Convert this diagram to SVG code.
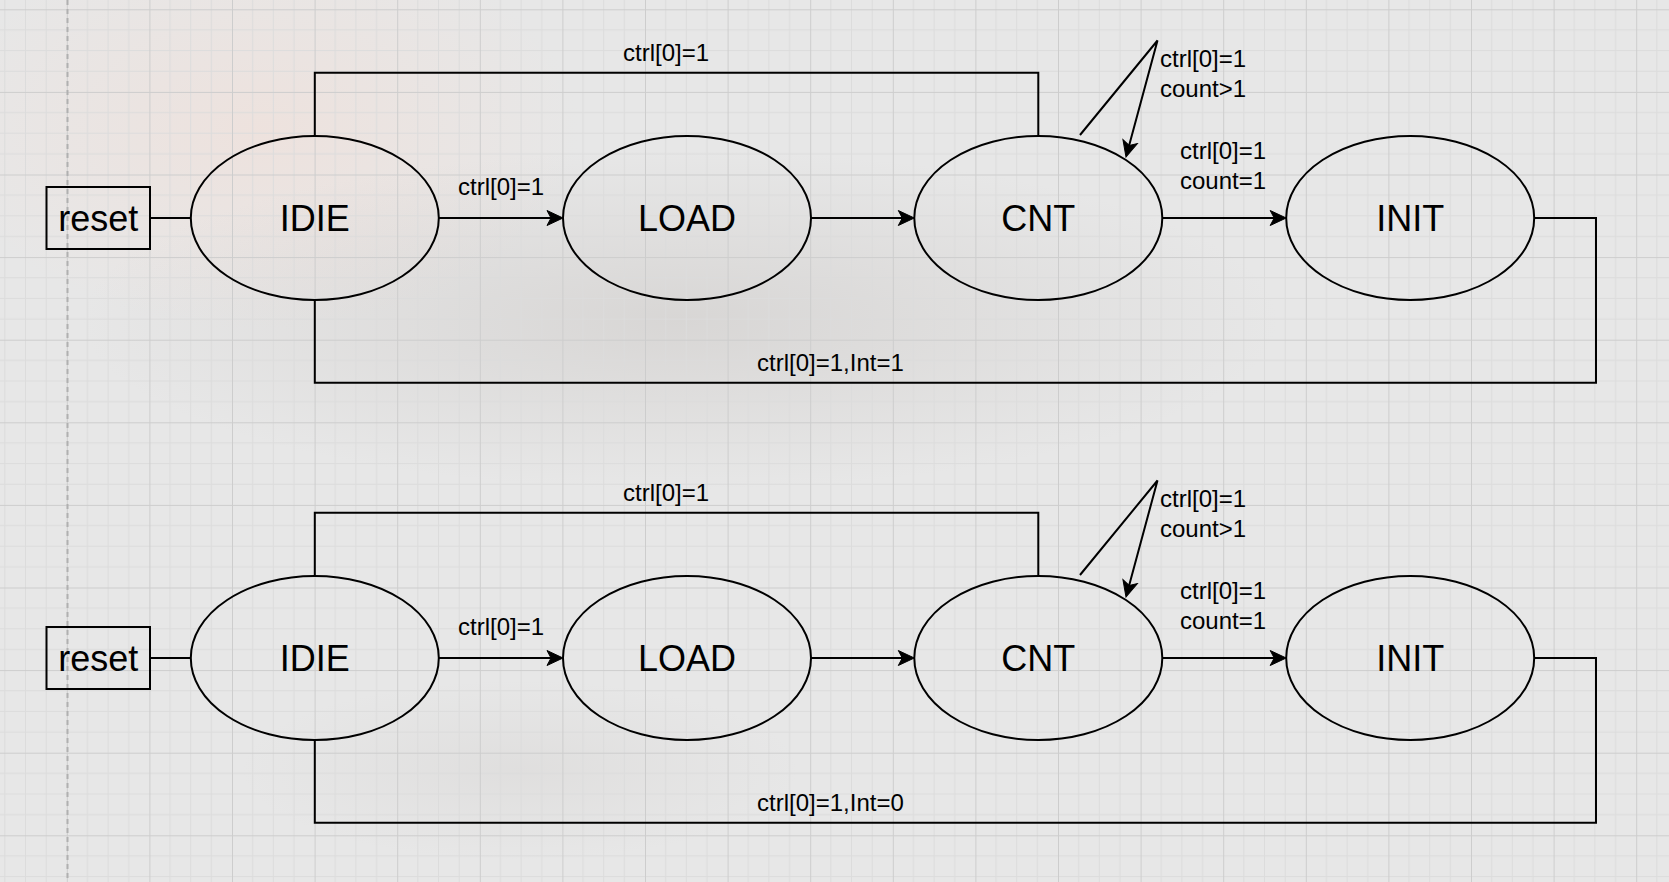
<svg xmlns="http://www.w3.org/2000/svg" width="1669" height="882" viewBox="0 0 1669 882">
  <defs>
    <style>
      .node { fill: none; stroke: #000; stroke-width: 2; }
      .edge { fill: none; stroke: #000; stroke-width: 2; }
      .big { font-family: "Liberation Sans", Arial, sans-serif; font-size: 36px; fill: #000; text-anchor: middle; }
      .lbl { font-family: "Liberation Sans", Arial, sans-serif; font-size: 24px; fill: #000; }
    </style>
    <marker id="arrow" viewBox="-9 -9 18 18" refX="0" refY="0" markerWidth="18" markerHeight="18" markerUnits="userSpaceOnUse" orient="auto">
      <path d="M8,0 L-8,-7.5 L-4,0 L-8,7.5 Z" fill="#000" stroke="#000" stroke-width="1" stroke-linejoin="miter"/>
    </marker>
    <pattern id="grid" patternUnits="userSpaceOnUse" x="66.8" y="9.3" width="82.6" height="82.6">
      <path d="M20.65,0 V82.6 M41.3,0 V82.6 M61.95,0 V82.6 M0,20.65 H82.6 M0,41.3 H82.6 M0,61.95 H82.6" stroke="#dcdcdc" stroke-width="1" fill="none"/>
      <path d="M0.5,0 V82.6 M0,0.5 H82.6" stroke="#cdcdcd" stroke-width="1" fill="none"/>
    </pattern>
    <radialGradient id="warm" cx="0.5" cy="0.5" r="0.5">
      <stop offset="0" stop-color="#f4ddd4" stop-opacity="0.5"/>
      <stop offset="1" stop-color="#f4ddd4" stop-opacity="0"/>
    </radialGradient>
    <radialGradient id="dark" cx="0.5" cy="0.5" r="0.5">
      <stop offset="0" stop-color="#b5afab" stop-opacity="0.3"/>
      <stop offset="1" stop-color="#b5afab" stop-opacity="0"/>
    </radialGradient>
  </defs>

  <g id="background">
    <rect x="0" y="0" width="1669" height="882" fill="#e7e7e7"/>
    <ellipse cx="260" cy="130" rx="320" ry="200" fill="url(#warm)"/>
    <ellipse cx="680" cy="320" rx="600" ry="170" fill="url(#dark)"/>
    <ellipse cx="520" cy="770" rx="280" ry="90" fill="url(#dark)" opacity="0.5"/>
    <rect x="0" y="0" width="1669" height="882" fill="url(#grid)"/>
    <line x1="67.5" y1="0" x2="67.5" y2="882" stroke="#b0b0b0" stroke-width="2" stroke-dasharray="5,4"/>
  </g>

  <g id="connectors">
    <!-- row 1 -->
    <path class="edge" d="M150.3,218 H190.8"/>
    <path class="edge" d="M438.8,218 H555" marker-end="url(#arrow)"/>
    <path class="edge" d="M811,218 H906.3" marker-end="url(#arrow)"/>
    <path class="edge" d="M1162.3,218 H1278.2" marker-end="url(#arrow)"/>
    <path class="edge" d="M314.8,136 V72.7 H1038.3 V136"/>
    <path class="edge" d="M1534.2,218 H1596 V382.7 H314.8 V300"/>
    <path class="edge" d="M1080,135 L1157.5,40.5 L1128.1,149.3" marker-end="url(#arrow)"/>
    <text class="lbl" x="623" y="60.7">ctrl[0]=1</text>
    <text class="lbl" x="458" y="195">ctrl[0]=1</text>
    <text class="lbl" x="1180" y="158.5">ctrl[0]=1</text>
    <text class="lbl" x="1180" y="188.5">count=1</text>
    <text class="lbl" x="1160" y="66.7">ctrl[0]=1</text>
    <text class="lbl" x="1160" y="96.7">count&gt;1</text>
    <text class="lbl" x="757" y="371">ctrl[0]=1,Int=1</text>
    <!-- row 2 -->
    <path class="edge" d="M150.3,658 H190.8"/>
    <path class="edge" d="M438.8,658 H555" marker-end="url(#arrow)"/>
    <path class="edge" d="M811,658 H906.3" marker-end="url(#arrow)"/>
    <path class="edge" d="M1162.3,658 H1278.2" marker-end="url(#arrow)"/>
    <path class="edge" d="M314.8,576 V512.7 H1038.3 V576"/>
    <path class="edge" d="M1534.2,658 H1596 V822.7 H314.8 V740"/>
    <path class="edge" d="M1080,575 L1157.5,480.5 L1128.1,589.3" marker-end="url(#arrow)"/>
    <text class="lbl" x="623" y="500.7">ctrl[0]=1</text>
    <text class="lbl" x="458" y="635">ctrl[0]=1</text>
    <text class="lbl" x="1180" y="598.5">ctrl[0]=1</text>
    <text class="lbl" x="1180" y="628.5">count=1</text>
    <text class="lbl" x="1160" y="506.7">ctrl[0]=1</text>
    <text class="lbl" x="1160" y="536.7">count&gt;1</text>
    <text class="lbl" x="757" y="811">ctrl[0]=1,Int=0</text>
  </g>

  <g id="reset1">
    <rect class="node" x="46.5" y="187" width="103.5" height="62"/>
    <text class="big" x="98.3" y="231">reset</text>
  </g>
  <g id="idie1">
    <ellipse class="node" cx="314.8" cy="218" rx="124" ry="82"/>
    <text class="big" x="314.8" y="231">IDIE</text>
  </g>
  <g id="load1">
    <ellipse class="node" cx="687" cy="218" rx="124" ry="82"/>
    <text class="big" x="687" y="231">LOAD</text>
  </g>
  <g id="cnt1">
    <ellipse class="node" cx="1038.3" cy="218" rx="124" ry="82"/>
    <text class="big" x="1038.3" y="231">CNT</text>
  </g>
  <g id="init1">
    <ellipse class="node" cx="1410.2" cy="218" rx="124" ry="82"/>
    <text class="big" x="1410.2" y="231">INIT</text>
  </g>

  <g id="reset2">
    <rect class="node" x="46.5" y="627" width="103.5" height="62"/>
    <text class="big" x="98.3" y="671">reset</text>
  </g>
  <g id="idie2">
    <ellipse class="node" cx="314.8" cy="658" rx="124" ry="82"/>
    <text class="big" x="314.8" y="671">IDIE</text>
  </g>
  <g id="load2">
    <ellipse class="node" cx="687" cy="658" rx="124" ry="82"/>
    <text class="big" x="687" y="671">LOAD</text>
  </g>
  <g id="cnt2">
    <ellipse class="node" cx="1038.3" cy="658" rx="124" ry="82"/>
    <text class="big" x="1038.3" y="671">CNT</text>
  </g>
  <g id="init2">
    <ellipse class="node" cx="1410.2" cy="658" rx="124" ry="82"/>
    <text class="big" x="1410.2" y="671">INIT</text>
  </g>
</svg>
